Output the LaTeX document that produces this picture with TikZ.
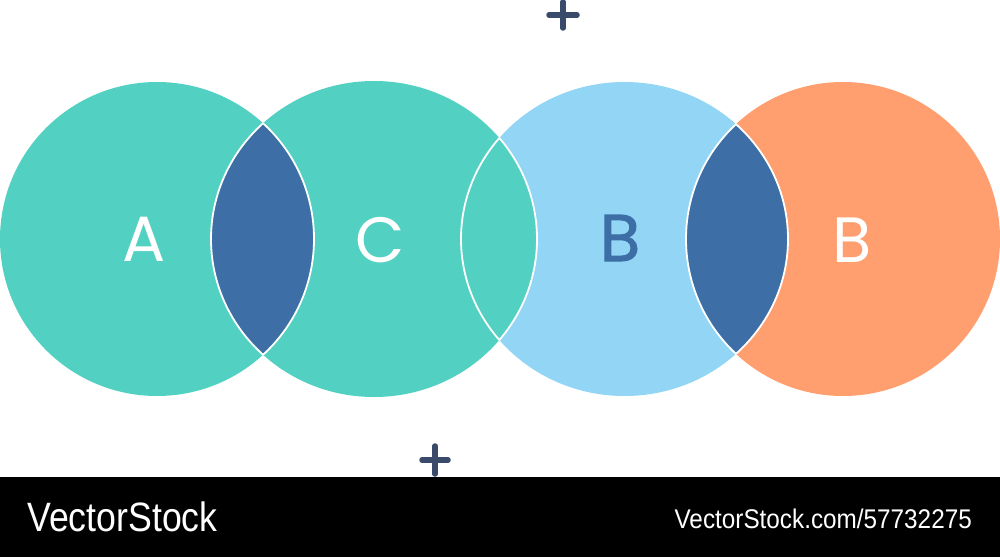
\documentclass[tikz,border=0pt]{standalone}
\usepackage{fontspec}
\newfontfamily\labelfont{Poppins}
\newfontfamily\labelheavy[FakeBold=1.6]{Poppins}
\newfontfamily\footfont[FakeStretch=0.87]{Liberation Sans}
\newfontfamily\footfontb[FakeStretch=0.9]{Liberation Sans}
\definecolor{tealc}{RGB}{82,209,195}
\definecolor{lensc}{RGB}{61,111,166}
\definecolor{lbluec}{RGB}{146,213,245}
\definecolor{orangec}{RGB}{255,158,110}
\definecolor{plusc}{RGB}{58,74,107}
\begin{document}
\begin{tikzpicture}[x=1pt,y=-1pt,
  lbl/.style={font=\labelfont\fontsize{64}{64}\selectfont, inner sep=0pt},
  lblheavy/.style={font=\labelheavy\fontsize{66}{66}\selectfont, inner sep=0pt},
  rim/.style={draw=white, line width=1.8pt},
  plusmark/.style={draw=plusc, line width=5.5pt, line cap=round},
  foottxt/.style={text=white, inner sep=0pt}]
\useasboundingbox (0,0) rectangle (1000,557);
\fill[white] (0,0) rectangle (1000,557);
\def\pA{(157,239) circle[radius=157]}
\def\pC{(374,239) ellipse[x radius=163, y radius=158]}
\def\pB{(624.5,239) ellipse[x radius=163.5, y radius=157]}
\def\pO{(843,239) circle[radius=157]}
% discs
\fill[tealc] \pA;
\fill[lbluec] \pB;
\fill[orangec] \pO;
\fill[tealc] \pC;
% lens A and C
\begin{scope}\clip \pA; \fill[lensc] \pC; \path[rim] \pC; \end{scope}
\begin{scope}\clip \pC; \path[rim] \pA; \end{scope}
% lens C and B (stays teal)
\begin{scope}\clip \pC; \path[rim] \pB; \end{scope}
\begin{scope}\clip \pB; \path[rim] \pC; \end{scope}
% lens B and orange
\begin{scope}\clip \pB; \fill[lensc] \pO; \path[rim] \pO; \end{scope}
\begin{scope}\clip \pO; \path[rim] \pB; \end{scope}
% labels
\node[lbl, text=white] (labA) at (144,239) {A};
\node[lbl, text=white] (labC) at (380,240) {C};
\node[lblheavy, text=lensc] (labB) at (620,238) {B};
\node[lbl, text=white] (labO) at (852,240) {B};
% plus marks
\coordinate (p1) at (563,15);
\coordinate (p2) at (435,460);
\draw[plusmark] ([xshift=-14pt]p1) -- ([xshift=14pt]p1);
\draw[plusmark] ([yshift=-13pt]p1) -- ([yshift=13pt]p1);
\draw[plusmark] ([xshift=-13pt]p2) -- ([xshift=13pt]p2);
\draw[plusmark] ([yshift=-14pt]p2) -- ([yshift=14pt]p2);
% footer
\fill[black] (0,477) rectangle (1000,557);
\node[foottxt, anchor=west, font=\footfont\fontsize{41}{41}\selectfont] (f1) at (27,517) {VectorStock};
\node[foottxt, anchor=east, font=\footfontb\fontsize{27}{27}\selectfont] (f2) at (972,519) {VectorStock.com/57732275};
\end{tikzpicture}
\end{document}
